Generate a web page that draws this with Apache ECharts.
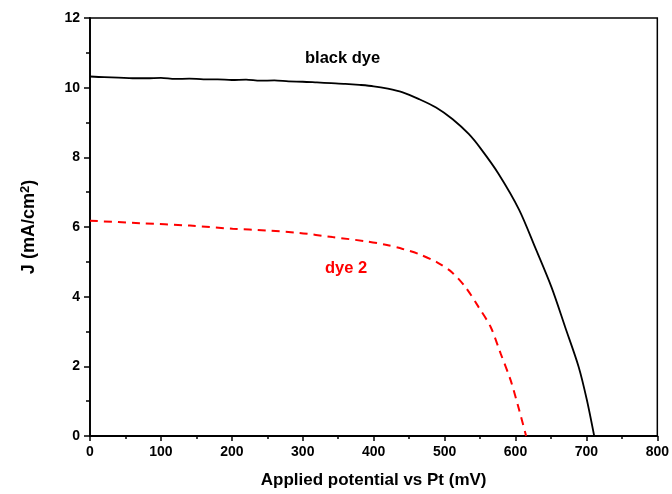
<!DOCTYPE html>
<html>
<head>
<meta charset="utf-8">
<script src="https://cdn.jsdelivr.net/npm/echarts@6/dist/echarts.min.js"></script>
<style>
html, body { margin: 0; padding: 0; background: #fff; }
#main { width: 672px; height: 494px; }
</style>
</head>
<body>
<div id="main"></div>
<script>
// black dye 曲线 (mV, mA/cm2)
var blackX = [0, 20, 40, 60, 80, 100, 120, 140, 160, 180, 200, 220, 240, 260, 280, 300, 320, 340, 360, 380, 400, 420, 440, 464, 488, 511, 534, 551, 576, 605, 628, 651, 670, 689, 700.6, 711]
var blackJ = [10.32, 10.30, 10.29, 10.27, 10.27, 10.28, 10.25, 10.26, 10.24, 10.24, 10.22, 10.23, 10.20, 10.21, 10.18, 10.17, 10.15, 10.13, 10.11, 10.08, 10.04, 9.97, 9.87, 9.67, 9.43, 9.10, 8.67, 8.25, 7.53, 6.50, 5.40, 4.26, 3.13, 1.99, 1.04, 0]
// dye 2 曲线
var dye2X = [0, 70, 141, 201, 248, 295, 342, 389, 417, 441, 464, 490, 511, 530, 548, 565, 579, 593, 605, 615]
var dye2J = [6.18, 6.11, 6.04, 5.95, 5.90, 5.83, 5.71, 5.59, 5.49, 5.37, 5.22, 4.98, 4.69, 4.26, 3.70, 3.13, 2.37, 1.61, 0.76, 0]

function zip(xs, ys) {
    return xs.map(function (x, i) { return [x, ys[i]] })
}

var myChart = echarts.init(document.getElementById('main'))
var font = 'Liberation Sans, Arial, sans-serif'
var option = {
    backgroundColor: '#fff',
    animation: false,
    grid: {
        left: 90,
        right: 12,
        top: 18,
        bottom: 54,
        show: true,
        borderColor: '#000',
        borderWidth: 1.5
    },
    xAxis: {
        type: 'value',
        min: 0,
        max: 800,
        interval: 100,
        name: 'Applied potential vs Pt (mV)',
        nameLocation: 'middle',
        nameGap: 36,
        nameTextStyle: { fontFamily: font, fontSize: 17, fontWeight: 'bold', color: '#000' },
        axisLine: { lineStyle: { color: '#000', width: 1.8 } },
        axisTick: { inside: false, length: 5, lineStyle: { color: '#000', width: 1.5 } },
        minorTick: { show: true, splitNumber: 2, length: 3, lineStyle: { color: '#000', width: 1.5 } },
        axisLabel: { fontFamily: font, fontSize: 14, fontWeight: 'bold', color: '#000', margin: 9 },
        splitLine: { show: false }
    },
    yAxis: {
        type: 'value',
        min: 0,
        max: 12,
        interval: 2,
        name: 'J (mA/cm{sup|2})',
        nameLocation: 'middle',
        nameGap: 50,
        nameRotate: 90,
        nameTextStyle: {
            fontFamily: font, fontSize: 18, fontWeight: 'bold', color: '#000',
            rich: {
                sup: { fontFamily: font, fontSize: 13, fontWeight: 'bold', color: '#000', verticalAlign: 'top', padding: [0, 0, 8, 0] }
            }
        },
        axisLine: { lineStyle: { color: '#000', width: 1.8 } },
        axisTick: { inside: false, length: 6, lineStyle: { color: '#000', width: 1.5 } },
        minorTick: { show: true, splitNumber: 2, length: 4, lineStyle: { color: '#000', width: 1.5 } },
        axisLabel: { fontFamily: font, fontSize: 14, fontWeight: 'bold', color: '#000', margin: 10 },
        splitLine: { show: false }
    },
    graphic: [
        {
            type: 'text',
            left: 305,
            top: 50,
            style: { text: 'black dye', fontFamily: font, fontSize: 16.5, fontWeight: 'bold', fill: '#000' }
        },
        {
            type: 'text',
            left: 325,
            top: 260,
            style: { text: 'dye 2', fontFamily: font, fontSize: 16.5, fontWeight: 'bold', fill: '#ff0000' }
        }
    ],
    series: [
        {
            name: 'black dye',
            type: 'line',
            data: zip(blackX, blackJ),
            showSymbol: false,
            smooth: 0.3,
            lineStyle: { color: '#000', width: 1.8 }
        },
        {
            name: 'dye 2',
            type: 'line',
            data: zip(dye2X, dye2J),
            showSymbol: false,
            smooth: 0.3,
            lineStyle: { color: '#ff0000', width: 2, type: [8, 6] }
        }
    ]
}
myChart.setOption(option)
</script>
</body>
</html>
